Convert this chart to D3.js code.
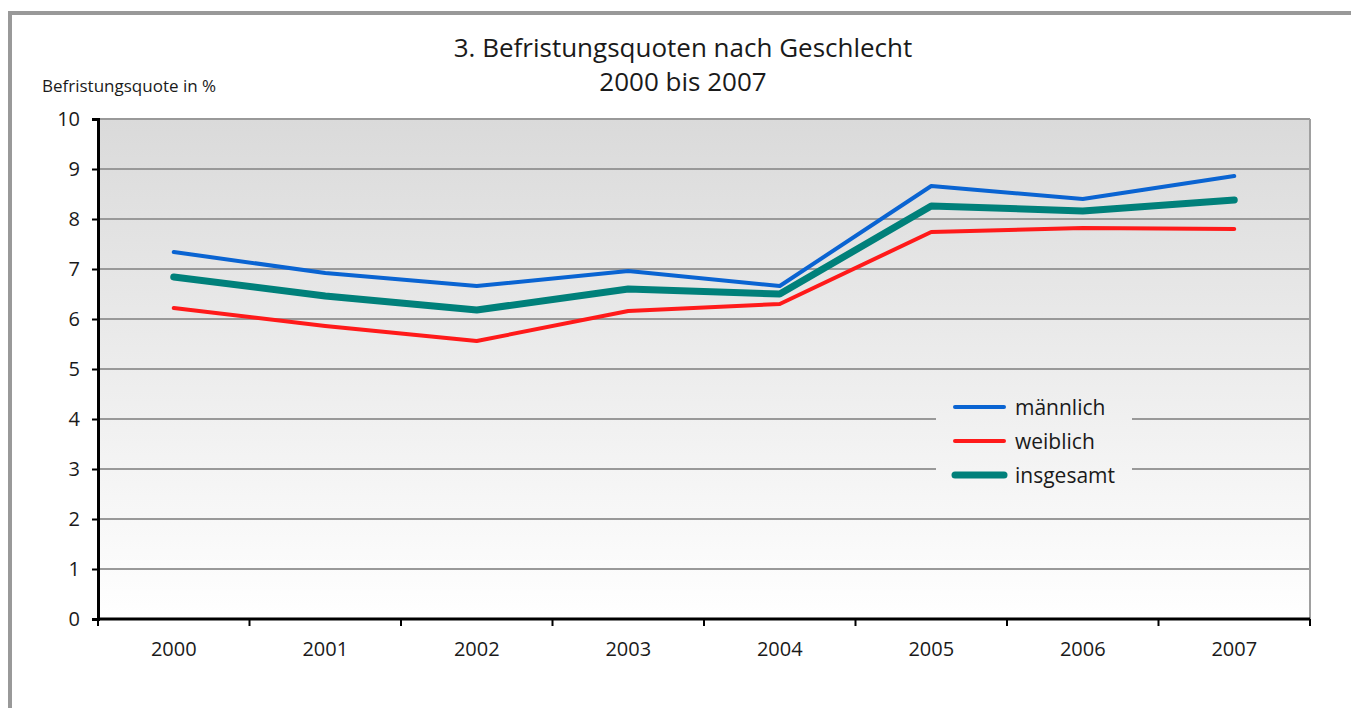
<!DOCTYPE html>
<html>
<head>
	<meta charset="utf-8">
	<title>Befristungsquoten nach Geschlecht</title>
	<style type="text/css">
		html, body {
			margin: 0;
			padding: 0;
			background-color: #fff;
		}
		svg text {
			font-family: "Open Sans", "Noto Sans", sans-serif;
			fill: #1a1a1a;
		}
	</style>
</head>
<body>
	<svg id="chart" width="1351" height="708"></svg>
	<script src="https://unpkg.com/d3@7.0.1/dist/d3.min.js"></script>
	<script type="text/javascript">
		const years = ['2000', '2001', '2002', '2003', '2004', '2005', '2006', '2007'];
		const maennlich = [7.34, 6.92, 6.66, 6.96, 6.66, 8.66, 8.40, 8.86];
		const weiblich = [6.22, 5.86, 5.56, 6.16, 6.30, 7.74, 7.82, 7.80];
		const insgesamt = [6.84, 6.46, 6.18, 6.60, 6.50, 8.26, 8.16, 8.38];
		const yTicks = [0, 1, 2, 3, 4, 5, 6, 7, 8, 9, 10];
		const seriesNames = ['männlich', 'weiblich', 'insgesamt'];

		const svg = d3.select('#chart');
		const plotLeft = 98, plotRight = 1310, plotTop = 119, plotBottom = 619;

		const xScale = d3.scaleBand().domain(years).range([plotLeft, plotRight]);
		const yScale = d3.scaleLinear().domain([0, 10]).range([plotBottom, plotTop]);

		// outer frame
		svg.append('rect')
			.attr('x', 10).attr('y', 13)
			.attr('width', 1400).attr('height', 800)
			.attr('fill', 'none')
			.attr('stroke', '#999')
			.attr('stroke-width', 4);

		const defs = svg.append('defs');
		const grad = defs.append('linearGradient')
			.attr('id', 'bg')
			.attr('gradientUnits', 'userSpaceOnUse')
			.attr('x1', 0).attr('y1', plotTop).attr('x2', 0).attr('y2', plotBottom);
		grad.append('stop').attr('offset', '0%').attr('stop-color', '#dadada');
		grad.append('stop').attr('offset', '100%').attr('stop-color', '#ffffff');

		svg.append('rect')
			.attr('x', plotLeft).attr('y', plotTop)
			.attr('width', plotRight - plotLeft).attr('height', plotBottom - plotTop)
			.attr('fill', 'url(#bg)');

		// gridlines
		svg.append('g')
			.selectAll('line')
			.data(yTicks.filter(d => d > 0))
			.join('line')
			.attr('x1', plotLeft).attr('x2', plotRight)
			.attr('y1', d => yScale(d)).attr('y2', d => yScale(d))
			.attr('stroke', '#999')
			.attr('stroke-width', 2);

		// right border of plot
		svg.append('line')
			.attr('x1', plotRight).attr('x2', plotRight)
			.attr('y1', plotTop).attr('y2', plotBottom)
			.attr('stroke', '#a0a0a0')
			.attr('stroke-width', 2);

		// legend box (covers gridlines)
		const legendX = 936, legendY = 388;
		svg.append('rect')
			.attr('x', legendX).attr('y', legendY)
			.attr('width', 196).attr('height', 106)
			.attr('fill', 'url(#bg)');

		// axes
		const yAxis = svg.append('g')
			.attr('transform', `translate(${plotLeft},0)`)
			.call(d3.axisLeft(yScale).tickValues(yTicks).tickSize(6).tickPadding(12));
		const xAxis = svg.append('g')
			.attr('transform', `translate(0,${plotBottom})`)
			.call(d3.axisBottom(xScale).tickSize(0).tickPadding(23));

		[yAxis, xAxis].forEach(ax => {
			ax.select('.domain').attr('stroke', '#000').attr('stroke-width', 3);
			ax.selectAll('.tick line').attr('stroke', '#000').attr('stroke-width', 2);
			ax.selectAll('text')
				.attr('font-size', 20)
				.attr('font-family', '"Open Sans", "Noto Sans", sans-serif')
				.attr('fill', '#1a1a1a');
		});
		xAxis.select('.domain').attr('d', `M${plotLeft},0H${plotRight}`);

		// category boundary ticks
		const boundaries = years.map(y => xScale(y)).concat([plotRight]);
		svg.append('g')
			.selectAll('line')
			.data(boundaries)
			.join('line')
			.attr('x1', d => d).attr('x2', d => d)
			.attr('y1', plotBottom).attr('y2', plotBottom + 7)
			.attr('stroke', '#000')
			.attr('stroke-width', 2);

		// lines
		const line = d3.line()
			.x((_, i) => xScale(years[i]) + xScale.bandwidth() / 2)
			.y(d => yScale(d));

		const series = [
			{ name: seriesNames[0], values: maennlich, color: '#0a64d2', width: 4 },
			{ name: seriesNames[1], values: weiblich, color: '#ff1a1a', width: 4 },
			{ name: seriesNames[2], values: insgesamt, color: '#00807a', width: 7 }
		];

		svg.append('g')
			.selectAll('path')
			.data([series[1], series[0], series[2]])
			.join('path')
			.attr('d', d => line(d.values))
			.attr('fill', 'none')
			.attr('stroke', d => d.color)
			.attr('stroke-width', d => d.width)
			.attr('stroke-linecap', 'round')
			.attr('stroke-linejoin', 'round');

		// legend entries
		const legend = svg.append('g');
		series.forEach((s, i) => {
			const cy = 407 + i * 34;
			legend.append('line')
				.attr('x1', 955).attr('x2', 1004)
				.attr('y1', cy).attr('y2', cy)
				.attr('stroke', s.color)
				.attr('stroke-width', s.width)
				.attr('stroke-linecap', 'round');
			legend.append('text')
				.attr('x', 1015).attr('y', cy + 8)
				.attr('font-size', 21)
				.text(s.name);
		});

		// titles
		svg.append('text')
			.attr('x', 683).attr('y', 57)
			.attr('text-anchor', 'middle')
			.attr('font-size', 26)
			.text('3. Befristungsquoten nach Geschlecht');
		svg.append('text')
			.attr('x', 683).attr('y', 91)
			.attr('text-anchor', 'middle')
			.attr('font-size', 26)
			.text('2000 bis 2007');
		svg.append('text')
			.attr('x', 42).attr('y', 92)
			.attr('font-size', 17)
			.text('Befristungsquote in %');
	</script>
</body>
</html>
